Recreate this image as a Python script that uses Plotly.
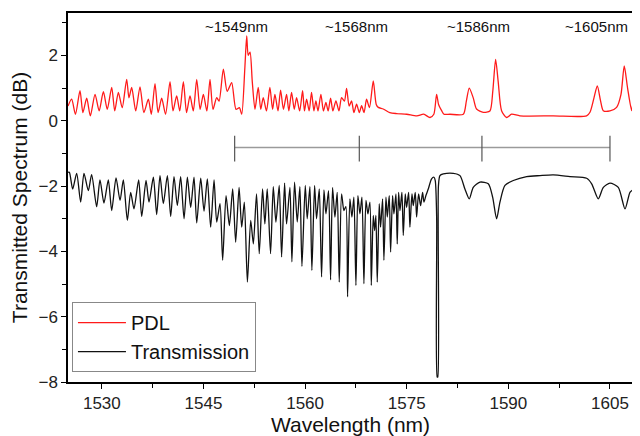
import plotly.graph_objects as go

# ---------------- data ----------------
pdl_wl = [1525.0, 1525.54, 1526.1, 1526.77, 1527.2, 1527.76, 1528.3, 1528.99, 1529.6, 1530.22,
          1530.8, 1531.45, 1531.9, 1532.43, 1533.0, 1533.66, 1534.0, 1534.4, 1535.0, 1535.63,
          1536.2, 1536.86, 1537.3, 1537.84, 1538.3, 1538.83, 1539.4, 1540.06, 1540.5, 1541.04,
          1541.5, 1542.03, 1542.5, 1543.01, 1543.5, 1544.0, 1544.5, 1544.98, 1545.5, 1545.96,
          1546.4, 1546.95, 1547.3, 1547.93, 1548.5, 1549.16, 1549.8, 1550.3, 1550.64, 1551.1,
          1551.38, 1551.6, 1551.87, 1552.2, 1552.6, 1553.08, 1553.45, 1553.82, 1554.3, 1554.8,
          1555.2, 1555.54, 1556.0, 1556.38, 1556.8, 1557.26, 1557.6, 1558.0, 1558.4, 1558.74,
          1559.2, 1559.63, 1559.9, 1560.22, 1560.6, 1560.95, 1561.3, 1561.59, 1561.9, 1562.33,
          1562.7, 1563.07, 1563.4, 1563.76, 1564.1, 1564.55, 1565.0, 1565.38, 1565.8, 1566.12,
          1566.5, 1566.86, 1567.2, 1567.6, 1568.0, 1568.34, 1568.7, 1569.07, 1569.5, 1570.06,
          1570.5, 1570.8, 1571.53, 1572.5, 1573.5, 1575.0, 1576.5, 1577.5, 1578.43, 1579.0,
          1579.41, 1579.7, 1580.15, 1580.5, 1581.38, 1583.35, 1583.8, 1584.23, 1584.82, 1585.31,
          1586.3, 1587.28, 1587.7, 1588.12, 1588.5, 1589.0, 1589.74, 1590.48, 1591.71, 1596.63,
          1601.55, 1602.05, 1602.64, 1603.13, 1603.62, 1604.01, 1605.0, 1605.98, 1606.62, 1607.11,
          1607.6, 1608.2, 1608.36]
pdl_db = [0.45, 0.66, 0.2, 0.92, 0.25, 0.69, 0.15, 0.81, 0.3, 0.89,
          0.35, 1.02, 0.3, 0.87, 0.4, 1.27, 0.7, 1.02, 0.3, 1.04,
          0.25, 0.66, 0.2, 1.14, 0.25, 0.69, 0.2, 1.2, 0.3, 0.76,
          0.3, 1.2, 0.25, 0.76, 0.3, 1.27, 0.35, 0.81, 0.3, 1.27,
          0.35, 0.71, 0.6, 1.58, 0.9, 1.17, 0.35, 0.4, 0.2, 1.6,
          2.6, 2.0, 2.1, 1.2, 0.35, 1.02, 0.35, 0.71, 0.3, 1.02,
          0.35, 0.81, 0.3, 0.94, 0.35, 0.81, 0.3, 0.87, 0.35, 0.71,
          0.3, 0.92, 0.3, 0.66, 0.3, 0.87, 0.3, 0.61, 0.3, 0.81,
          0.3, 0.56, 0.3, 0.69, 0.3, 0.61, 0.3, 0.71, 0.6, 0.99,
          0.45, 0.61, 0.25, 0.51, 0.25, 0.46, 0.25, 0.66, 0.4, 1.22,
          0.5, 0.41, 0.36, 0.25, 0.22, 0.2, 0.15, 0.2, 0.1, 0.2,
          0.81, 0.5, 0.31, 0.2, 0.2, 0.2, 0.6, 1.0, 0.7, 0.36,
          0.26, 0.3, 0.9, 1.88, 1.2, 0.31, 0.1, 0.2, 0.15, 0.15,
          0.15, 0.26, 0.7, 1.07, 0.6, 0.31, 0.3, 0.41, 0.8, 1.68,
          1.0, 0.31, 0.5]

tr_wl = [1525.0, 1525.2, 1525.69, 1526.28, 1526.87, 1527.36, 1528.0, 1528.49, 1529.23, 1529.72,
         1530.31, 1530.95, 1531.45, 1532.09, 1532.68, 1533.17, 1533.76, 1534.25, 1534.74, 1535.43,
         1535.88, 1536.52, 1536.96, 1537.6, 1538.09, 1538.58, 1539.07, 1539.67, 1540.16, 1540.65,
         1541.14, 1541.63, 1542.13, 1542.62, 1543.11, 1543.6, 1544.0, 1544.59, 1545.08, 1545.57,
         1546.06, 1546.56, 1546.95, 1547.44, 1547.83, 1548.33, 1548.82, 1549.31, 1549.75, 1550.25,
         1550.64, 1551.03, 1551.48, 1551.97, 1552.36, 1552.83, 1553.23, 1553.72, 1554.06, 1554.41,
         1554.9, 1555.3, 1555.69, 1556.18, 1556.53, 1556.97, 1557.26, 1557.76, 1558.05, 1558.44,
         1558.84, 1559.23, 1559.53, 1560.02, 1560.31, 1560.71, 1561.0, 1561.4, 1561.69, 1562.09,
         1562.43, 1562.78, 1563.07, 1563.46, 1563.76, 1564.05, 1564.4, 1564.74, 1565.04, 1565.38,
         1565.73, 1566.02, 1566.27, 1566.61, 1566.91, 1567.2, 1567.5, 1567.79, 1568.09, 1568.39,
         1568.68, 1568.98, 1569.27, 1569.57, 1569.77, 1570.06, 1570.26, 1570.45, 1570.65, 1570.94,
         1571.14, 1571.44, 1571.63, 1571.93, 1572.13, 1572.42, 1572.62, 1572.91, 1573.11, 1573.41,
         1573.6, 1573.8, 1574.0, 1574.29, 1574.49, 1574.78, 1574.98, 1575.28, 1575.47, 1575.77,
         1575.96, 1576.26, 1576.46, 1576.75, 1577.05, 1577.34, 1577.54, 1577.83, 1578.18, 1578.67,
         1579.02, 1579.21, 1579.42, 1579.5, 1579.58, 1579.68, 1579.9, 1580.4, 1581.87, 1582.86,
         1583.59, 1584.23, 1584.82, 1585.81, 1587.04, 1587.68, 1588.27, 1588.76, 1589.5, 1590.73,
         1592.7, 1594.67, 1596.63, 1599.1, 1601.56, 1602.3, 1603.28, 1604.02, 1605.0, 1606.23,
         1607.22, 1607.95, 1608.35]
tr_db = [-1.58, -1.58, -2.09, -1.61, -2.49, -1.61, -2.14, -1.65, -2.63, -1.81,
         -2.52, -1.81, -2.75, -1.75, -2.44, -1.81, -3.05, -2.19, -2.70, -1.81,
         -2.93, -1.83, -2.49, -1.73, -2.87, -1.68, -2.54, -1.68, -2.93, -1.71,
         -2.60, -1.71, -3.0, -1.73, -2.65, -1.73, -3.13, -1.76, -2.77, -1.78,
         -3.26, -1.81, -3.10, -2.54, -4.27, -2.29, -3.21, -2.09, -3.72, -2.04,
         -3.26, -2.49, -4.94, -3.05, -3.77, -2.24, -4.07, -2.09, -3.16, -2.09,
         -4.07, -2.02, -3.10, -1.98, -4.17, -1.91, -3.16, -2.04, -4.32, -1.88,
         -3.10, -2.02, -4.46, -1.98, -3.0, -2.02, -4.58, -1.98, -3.0, -2.09,
         -4.78, -2.12, -2.85, -2.14, -4.87, -2.04, -2.95, -2.19, -4.94, -2.24,
         -2.75, -2.63, -5.39, -2.39, -2.95, -2.34, -5.04, -2.29, -2.85, -2.34,
         -4.99, -2.44, -2.85, -2.49, -5.04, -2.90, -3.36, -2.90, -4.94, -2.54,
         -3.26, -2.39, -4.27, -2.34, -2.95, -2.29, -4.02, -2.29, -2.85, -2.24,
         -3.77, -2.19, -2.75, -2.19, -3.51, -2.24, -2.65, -2.19, -3.26, -2.24,
         -2.60, -2.19, -2.95, -2.24, -2.60, -2.19, -2.49, -2.29, -2.09, -1.78,
         -1.73, -1.83, -3.0, -7.85, -7.85, -2.0, -1.68, -1.63, -1.61, -1.68,
         -2.09, -2.39, -2.04, -1.88, -1.93, -2.34, -3.0, -2.49, -1.98, -1.83,
         -1.71, -1.68, -1.66, -1.71, -1.76, -1.93, -2.39, -2.04, -1.91, -2.04,
         -2.70, -2.19, -2.12]

marker_wl = [1549.6, 1568.0, 1586.1, 1605.0]
marker_labels = ["~1549nm", "~1568nm", "~1586nm", "~1605nm"]
label_wl = [1549.9, 1567.65, 1585.66, 1602.94]
label_y = 2.9
bracket_y = -0.82
bracket_tick_top = -0.46
bracket_tick_bottom = -1.25

FONT = "Arial, 'Liberation Sans', sans-serif"

fig = go.Figure()
fig.add_trace(go.Scatter(x=pdl_wl, y=pdl_db, mode="lines", name="PDL",
                         line=dict(color="#ff1a1a", width=1.3, shape="spline", smoothing=0.7)))
fig.add_trace(go.Scatter(x=tr_wl, y=tr_db, mode="lines", name="Transmission",
                         line=dict(color="#111111", width=1.3, shape="spline", smoothing=0.7)))

# bracket line with ticks
fig.add_shape(type="line", x0=marker_wl[0], x1=marker_wl[-1], y0=bracket_y, y1=bracket_y,
              xref="x", yref="y", line=dict(color="#9a9a9a", width=1.5))
for w in marker_wl:
    fig.add_shape(type="line", x0=w, x1=w, y0=bracket_tick_bottom, y1=bracket_tick_top,
                  xref="x", yref="y", line=dict(color="#555555", width=1.2))

for w, t in zip(label_wl, marker_labels):
    fig.add_annotation(x=w, y=label_y, text=t, showarrow=False, xref="x", yref="y",
                       font=dict(family=FONT, size=15, color="#111"))

# the page body adds an 8px offset, so the figure is sized/margined to compensate
fig.update_layout(
    width=632, height=428, autosize=False,
    margin=dict(l=60, r=7, t=5, b=54),
    paper_bgcolor="white", plot_bgcolor="white",
    font=dict(family=FONT, color="#111"),
    showlegend=True,
    legend=dict(x=0.007, y=0.027, xanchor="left", yanchor="bottom",
                bordercolor="#888888", borderwidth=1, bgcolor="white",
                font=dict(family=FONT, size=20, color="#111"),
                tracegroupgap=0, itemwidth=48),
)
fig.update_xaxes(range=[1525, 1608.4], tickmode="array", tickvals=[1530, 1545, 1560, 1575, 1590, 1605],
                 ticks="outside", ticklen=5, tickwidth=1.2, tickcolor="black",
                 minor=dict(ticks="outside", ticklen=4, tickcolor="black", tickwidth=1.2, dtick=7.5, tick0=1530),
                 showline=True, linecolor="black", linewidth=1.5, mirror=True,
                 showgrid=False, zeroline=False, automargin=False,
                 tickfont=dict(family=FONT, size=17, color="#222"),
                 title=dict(text="Wavelength (nm)", font=dict(family=FONT, size=21, color="#111"), standoff=0))
fig.update_yaxes(range=[-8, 3.3], tickmode="linear", tick0=0, dtick=2,
                 ticks="outside", ticklen=5, tickwidth=1.2, tickcolor="black",
                 minor=dict(ticks="outside", ticklen=4, tickcolor="black", tickwidth=1.2, dtick=1, tick0=0),
                 showline=True, linecolor="black", linewidth=1.5, mirror=True,
                 showgrid=False, zeroline=False, automargin=False,
                 tickfont=dict(family=FONT, size=17, color="#222"),
                 title=dict(text="Transmitted Spectrum (dB)", font=dict(family=FONT, size=21, color="#111"), standoff=6))

fig.write_html("out.html")
